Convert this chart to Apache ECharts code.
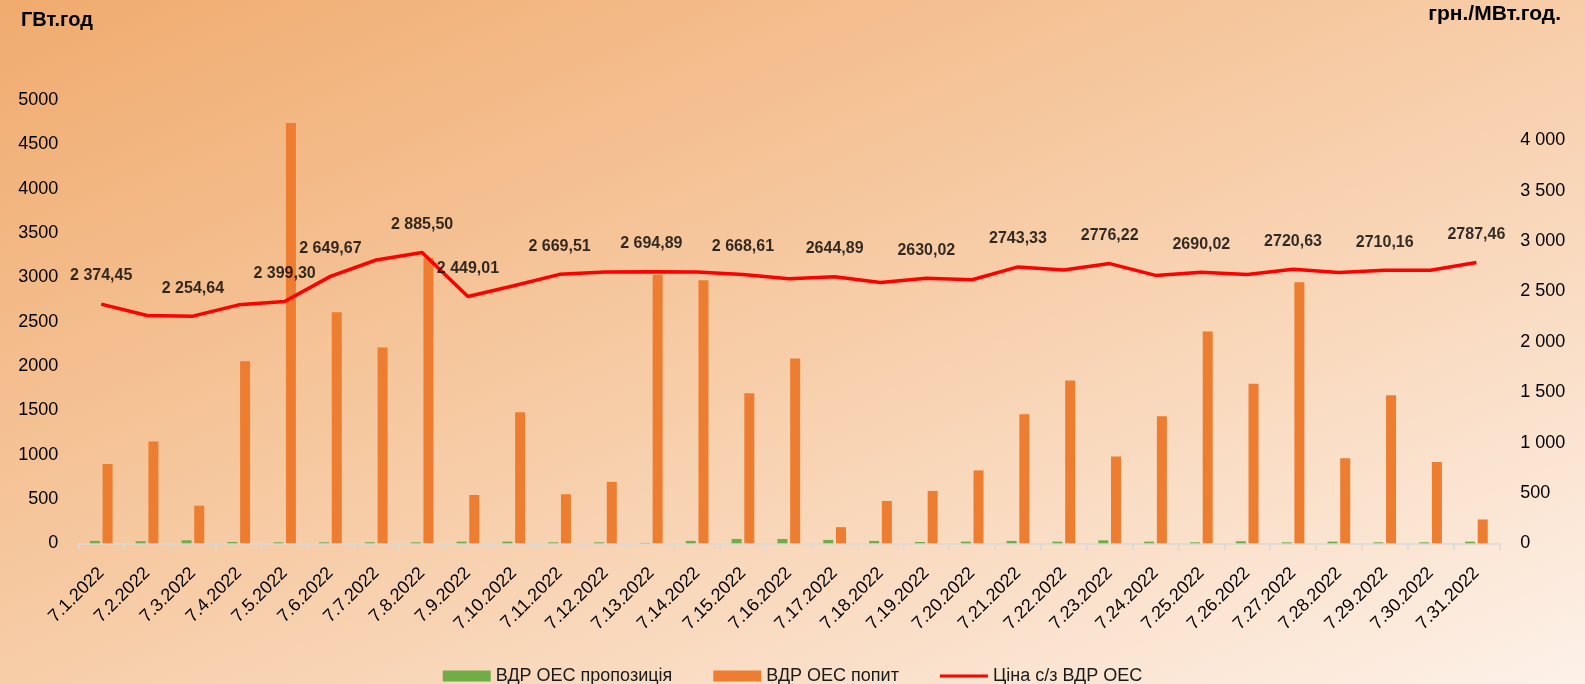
<!DOCTYPE html>
<html>
<head>
<meta charset="utf-8">
<script src="https://cdn.jsdelivr.net/npm/echarts@6/dist/echarts.min.js"></script>
<style>
html,body{margin:0;padding:0;}
#chart{width:1585px;height:684px;}
</style>
</head>
<body>
<div id="chart"></div>
<script>
var categories = ['7.1.2022','7.2.2022','7.3.2022','7.4.2022','7.5.2022','7.6.2022','7.7.2022','7.8.2022','7.9.2022','7.10.2022','7.11.2022','7.12.2022','7.13.2022','7.14.2022','7.15.2022','7.16.2022','7.17.2022','7.18.2022','7.19.2022','7.20.2022','7.21.2022','7.22.2022','7.23.2022','7.24.2022','7.25.2022','7.26.2022','7.27.2022','7.28.2022','7.29.2022','7.30.2022','7.31.2022'];
var supplyValues = [27,23,34,15,11,11,12,11,19,19,11,11,4,27,49,49,38,27,15,19,27,19,34,19,11,23,11,19,11,11,19];
var demandValues = [895,1148,424,2053,4740,2606,2208,3220,545,1477,553,693,3030,2966,1693,2083,182,477,591,822,1455,1837,979,1432,2390,1799,2943,958,1670,917,269];
var priceValues = [2374.45,2261,2254.64,2367,2399.30,2649.67,2812,2885.50,2449.01,2556,2669.51,2692,2694.89,2693,2668.61,2626,2644.89,2589,2630.02,2616,2743.33,2712,2776.22,2659,2690.02,2669,2720.63,2689,2710.16,2711,2787.46];
var priceLabels = ['2 374,45','','2 254,64','','2 399,30','2 649,67','','2 885,50','2 449,01','','2 669,51','','2 694,89','','2 668,61','','2644,89','','2630,02','','2743,33','','2776,22','','2690,02','','2720,63','','2710,16','','2787,46'];
var leftTicks = {min:0, max:5000, interval:500};
var rightTicks = {min:0, max:4400, interval:500};
var seriesNames = ['ВДР ОЕС пропозиція','ВДР ОЕС попит','Ціна с/з ВДР ОЕС'];
var unitLeft = 'ГВт.год';
var unitRight = 'грн./МВт.год.';

var FONT = '"Liberation Sans", Arial, sans-serif';
var chart = echarts.init(document.getElementById('chart'), null, {renderer:'canvas'});

function fmtRight(v){
  if (v % 500 !== 0) return '';
  if (v >= 1000) {
    var th = Math.floor(v/1000), rest = v % 1000;
    return th + ' ' + String(rest).padStart(3,'0');
  }
  return String(v);
}
function fmtLeft(v){ return String(v); }

var option = {
  animation: false,
  textStyle: {fontFamily: FONT},
  graphic: [{
    type: 'rect', z: -100, silent: true,
    shape: {x:0, y:0, width:1585, height:684},
    style: {
      fill: new echarts.graphic.LinearGradient(0, 0, 498, 1153, [
        {offset:0, color:'#F0AB6E'},
        {offset:0.5, color:'#F7CDA8'},
        {offset:1, color:'#FDF1E8'}
      ], true)
    }
  }],
  title: [
    {text: unitLeft, left: 21, top: 10, padding: 0,
     textStyle:{fontFamily:FONT, fontSize:20, fontWeight:'bold', color:'#000'}},
    {text: unitRight, right: 24, top: 4, padding: 0,
     textStyle:{fontFamily:FONT, fontSize:21, fontWeight:'bold', color:'#000'}}
  ],
  legend: {
    data: [
      {name: seriesNames[0], icon: 'rect'},
      {name: seriesNames[1], icon: 'rect'},
      {name: seriesNames[2], icon: 'path://M0,0H48V3.2H0Z', itemStyle:{color:'#FF0000'}}
    ],
    left: 'center',
    top: 662,
    itemWidth: 48,
    itemHeight: 11,
    itemGap: 41,
    textStyle: {fontFamily:FONT, fontSize:18, color:'#1a1a1a'}
  },
  grid: {left: 78.3, right: 85.7, top: 100, bottom: 140.7, containLabel: false, outerBoundsMode: 'none'},
  xAxis: {
    type: 'category',
    data: categories,
    boundaryGap: true,
    axisLine: {show:true, lineStyle:{color:'#D9D9D9', width:1.5}},
    axisTick: {show:true, length:7, interval:0, lineStyle:{color:'#D9D9D9', width:1.5}},
    axisLabel: {interval:0, rotate:45, margin:27, fontFamily:FONT, fontSize:18, color:'#000'},
    splitLine: {show:false}
  },
  yAxis: [
    {type:'value', min:leftTicks.min, max:leftTicks.max, interval:leftTicks.interval,
     axisLine:{show:false}, axisTick:{show:false}, splitLine:{show:false},
     axisLabel:{margin:20, fontFamily:FONT, fontSize:18, color:'#000', formatter: fmtLeft}},
    {type:'value', position:'right', min:rightTicks.min, max:rightTicks.max, interval:rightTicks.interval,
     axisLine:{show:false}, axisTick:{show:false}, splitLine:{show:false},
     axisLabel:{margin:21, fontFamily:FONT, fontSize:18, color:'#000', formatter: fmtRight}}
  ],
  series: [
    {name: seriesNames[0], type:'bar', yAxisIndex:0, data: supplyValues, barWidth:10, barGap:'27%',
     itemStyle:{color:'#70AD47'}},
    {name: seriesNames[1], type:'bar', yAxisIndex:0, data: demandValues, barWidth:10, barGap:'27%',
     itemStyle:{color:'#ED7D31'}},
    {name: seriesNames[2], type:'line', yAxisIndex:1, data: priceValues, symbol:'none', showSymbol:false,
     lineStyle:{color:'#FF0000', width:3.5}, itemStyle:{color:'#FF0000'}, z:5},
    {name: 'priceLabels', type:'scatter', yAxisIndex:1, data: priceValues, symbol:'circle', symbolSize:2,
     itemStyle:{color:'rgba(255,0,0,0)'}, z:6, silent:true,
     label:{show:true, position:'top', distance:19, fontFamily:FONT, fontSize:16, fontWeight:'bold', color:'#000',
       formatter:function(p){ return priceLabels[p.dataIndex]; }},
     labelLayout: {hideOverlap:false}
    }
  ]
};
chart.setOption(option);
</script>
</body>
</html>
